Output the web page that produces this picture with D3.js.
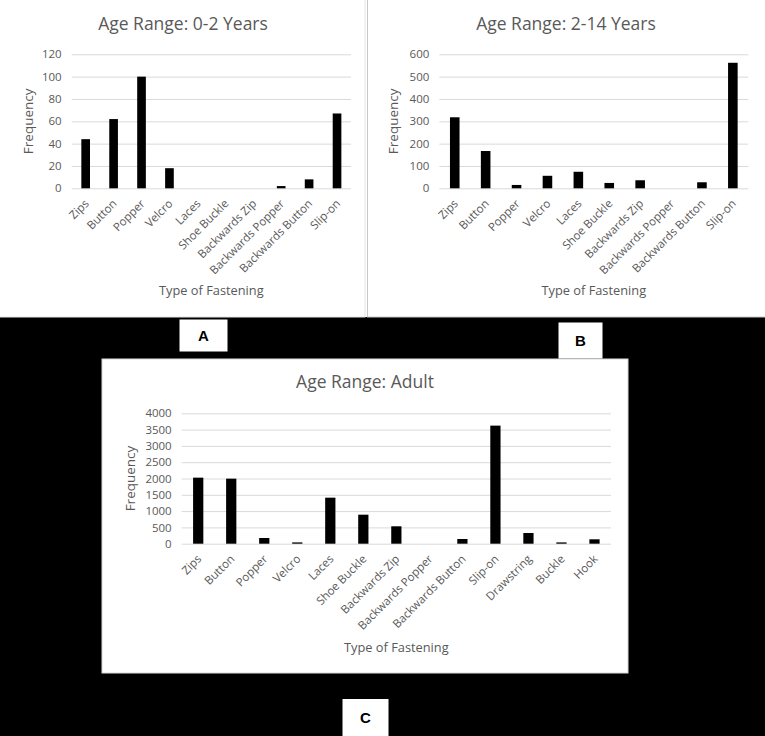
<!DOCTYPE html>
<html>
<head>
<meta charset="utf-8">
<script src="https://cdn.jsdelivr.net/npm/d3@7"></script>
<style>
  body { margin: 0; background: #000; }
  text { font-family: "Open Sans", sans-serif; fill: #595959; }
</style>
</head>
<body>
<svg id="fig" width="765" height="736"></svg>
<script>
// fastening types
const childFastenings = ["Zips", "Button", "Popper", "Velcro", "Laces", "Shoe Buckle",
    "Backwards Zip", "Backwards Popper", "Backwards Button", "Slip-on"];
const adultFastenings = ["Zips", "Button", "Popper", "Velcro", "Laces", "Shoe Buckle",
    "Backwards Zip", "Backwards Popper", "Backwards Button", "Slip-on",
    "Drawstring", "Buckle", "Hook"];

const infantCounts = [44, 62, 100, 18, 0, 0, 0, 2, 8, 67];
const childCounts = [318, 167, 15, 56, 74, 24, 36, 0, 27, 562];
const adultCounts = [2026, 1995, 175, 40, 1412, 890, 534, 0, 144, 3622, 328, 40, 135];

const infantTicks = [0, 20, 40, 60, 80, 100, 120];
const childTicks = [0, 100, 200, 300, 400, 500, 600];
const adultTicks = [0, 500, 1000, 1500, 2000, 2500, 3000, 3500, 4000];

const panelLetters = ["A", "B", "C"];

var svg = d3.select("#fig");

svg.append("rect").attr("width", 765).attr("height", 736).attr("fill", "#000");
svg.append("rect").attr("width", 765).attr("height", 317).attr("fill", "#fff");

// white card behind each chart
var drawCard = function (x, y, w, h, stroke) {
    svg.append("rect")
        .attr("x", x).attr("y", y).attr("width", w).attr("height", h)
        .attr("fill", "#fff").attr("stroke", stroke).attr("stroke-width", 1);
};

var drawPanel = function (p) {
    let g = svg.append("g"),
        xScale = d3.scaleBand()
            .domain(p.categories)
            .range([p.left, p.right])
            .paddingInner(0.69).paddingOuter(0.345),
        yScale = d3.scaleLinear()
            .domain([0, d3.max(p.ticks)])
            .range([p.bottom, p.top]);

    // gridlines
    let grid = g.append("g")
        .attr("transform", "translate(" + p.left + ",0)")
        .call(d3.axisLeft(yScale).tickValues(p.ticks).tickSize(-(p.right - p.left)).tickFormat(""));
    grid.select(".domain").remove();
    grid.selectAll("line").attr("stroke", "#d9d9d9").attr("stroke-width", 1);

    // y tick labels
    let yAxis = g.append("g")
        .attr("transform", "translate(" + (p.left - 10) + ",0)")
        .call(d3.axisLeft(yScale).tickValues(p.ticks).tickSize(0).tickPadding(0).tickFormat(d3.format("d")));
    yAxis.select(".domain").remove();
    yAxis.selectAll("text").attr("font-size", 11.5).attr("fill", "#595959")
        .attr("font-family", "Open Sans, sans-serif");

    g.selectAll("rect.bar")
        .data(p.values)
        .enter().append("rect")
        .attr("class", "bar")
        .attr("x", (d, i) => xScale(p.categories[i]))
        .attr("width", xScale.bandwidth())
        .attr("y", d => yScale(d))
        .attr("height", d => p.bottom - yScale(d))
        .attr("fill", "#000");

    // rotated category labels
    let xAxis = g.append("g")
        .attr("transform", "translate(0," + p.bottom + ")")
        .call(d3.axisBottom(xScale).tickSize(0).tickPadding(0));
    xAxis.select(".domain").remove();
    xAxis.selectAll("text")
        .attr("font-size", 11.5).attr("fill", "#595959")
        .attr("font-family", "Open Sans, sans-serif")
        .attr("text-anchor", "end")
        .attr("dy", 0)
        .attr("transform", "translate(4,16) rotate(-45)");

    g.append("text")
        .attr("x", p.titleX).attr("y", p.titleY)
        .attr("text-anchor", "middle").attr("font-size", 17.5)
        .text(p.title);

    g.append("text")
        .attr("transform", "translate(" + p.freqX + "," + ((p.top + p.bottom) / 2) + ") rotate(-90)")
        .attr("text-anchor", "middle").attr("font-size", 13.5)
        .text("Frequency");

    g.append("text")
        .attr("x", (p.left + p.right) / 2).attr("y", p.axisTitleY)
        .attr("text-anchor", "middle").attr("font-size", 12.8)
        .text("Type of Fastening");
};

var drawLetter = function (letter, x, y, w, h) {
    svg.append("rect").attr("x", x).attr("y", y).attr("width", w).attr("height", h).attr("fill", "#fff");
    svg.append("text")
        .attr("x", x + w / 2).attr("y", y + h / 2 + 5.5)
        .attr("text-anchor", "middle")
        .style("font-family", "Liberation Sans, Arial, sans-serif")
        .style("font-weight", "bold").style("font-size", "15px").style("fill", "#000")
        .text(letter);
};

drawCard(-1, -1, 366, 318, "#e6e6e6");
drawCard(367.5, -1, 399, 318, "#c8c8c8");
drawCard(102, 359, 526, 314, "#d9d9d9");

drawPanel({
    categories: childFastenings, values: infantCounts, ticks: infantTicks,
    left: 71.7, right: 351, top: 54.3, bottom: 188.3,
    title: "Age Range: 0-2 Years", titleX: 183, titleY: 30,
    freqX: 33, axisTitleY: 295
});

drawPanel({
    categories: childFastenings, values: childCounts, ticks: childTicks,
    left: 439.3, right: 748.3, top: 54.3, bottom: 188.3,
    title: "Age Range: 2-14 Years", titleX: 566, titleY: 30,
    freqX: 398, axisTitleY: 295
});

drawPanel({
    categories: adultFastenings, values: adultCounts, ticks: adultTicks,
    left: 181.7, right: 611, top: 413.3, bottom: 543.7,
    title: "Age Range: Adult", titleX: 365, titleY: 388,
    freqX: 135, axisTitleY: 651.7
});

drawLetter(panelLetters[0], 179.5, 319.5, 48, 32);
drawLetter(panelLetters[1], 558.5, 322.5, 44, 36);
drawLetter(panelLetters[2], 342.5, 699, 46, 37);
</script>
</body>
</html>
